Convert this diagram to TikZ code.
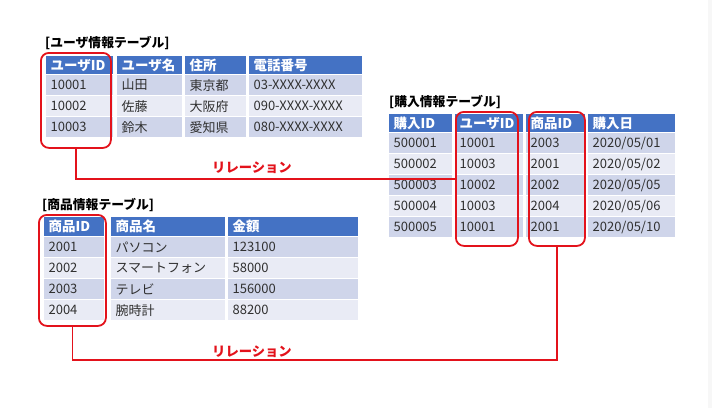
\documentclass[tikz,border=0pt]{standalone}
\usepackage{fontspec}
\setmainfont{Noto Sans CJK JP}
\definecolor{hdr}{HTML}{4472C4}
\definecolor{rowA}{HTML}{CFD5EA}
\definecolor{rowB}{HTML}{E9EBF5}
\definecolor{rel}{HTML}{E3121B}
\definecolor{txt}{HTML}{303030}
\tikzset{
  tcell/.style={anchor=north west, draw=white, line width=1.2pt, inner xsep=5pt, inner ysep=0pt,
    align=left, font=\fontsize{13}{14}\selectfont, text=txt},
  hcell/.style={tcell, fill=hdr, text=white, font=\fontsize{13.5}{14}\selectfont\bfseries},
  ttl/.style={anchor=west, inner sep=0pt, font=\fontsize{12.8}{14}\selectfont\bfseries, text=black},
  redbox/.style={anchor=north west, draw=rel, line width=1.8pt, rounded corners=8pt, inner sep=0pt},
  relline/.style={draw=rel, line width=1.6pt},
  rellbl/.style={inner sep=0pt, font=\fontsize{13.3}{14}\selectfont\bfseries, text=rel}
}
% name, x, y, text width, height, style, text
\newcommand\tc[7]{\node[#6, minimum height=#5pt, text width=#4pt] (#1) at (#2,#3) {#7};}
\begin{document}
\begin{tikzpicture}[x=1pt,y=-1pt]
\useasboundingbox (0,0) rectangle (712,408);
\fill[black!3] (708,0) rectangle (712,408);

% ---------------- user table
\node[ttl] (utitle) at (45,43) {[ユーザ情報テーブル]};
\tc{u00}{45}{55}{58}{19}{hcell}{ユーザID}
\tc{u01}{116}{55}{56}{19}{hcell}{ユーザ名}
\tc{u02}{184}{55}{52}{19}{hcell}{住所}
\tc{u03}{248}{55}{104}{19}{hcell}{電話番号}
\tc{u10}{45}{74}{58}{21}{tcell,fill=rowA}{10001}
\tc{u11}{116}{74}{56}{21}{tcell,fill=rowA}{山田}
\tc{u12}{184}{74}{52}{21}{tcell,fill=rowA}{東京都}
\tc{u13}{248}{74}{104}{21}{tcell,fill=rowA}{03-XXXX-XXXX}
\tc{u20}{45}{95}{58}{21}{tcell,fill=rowB}{10002}
\tc{u21}{116}{95}{56}{21}{tcell,fill=rowB}{佐藤}
\tc{u22}{184}{95}{52}{21}{tcell,fill=rowB}{大阪府}
\tc{u23}{248}{95}{104}{21}{tcell,fill=rowB}{090-XXXX-XXXX}
\tc{u30}{45}{116}{58}{21}{tcell,fill=rowA}{10003}
\tc{u31}{116}{116}{56}{21}{tcell,fill=rowA}{鈴木}
\tc{u32}{184}{116}{52}{21}{tcell,fill=rowA}{愛知県}
\tc{u33}{248}{116}{104}{21}{tcell,fill=rowA}{080-XXXX-XXXX}

% ---------------- purchase table
\node[ttl] (ptitle) at (389,102) {[購入情報テーブル]};
\tc{p00}{388}{113}{54}{19}{hcell}{購入ID}
\tc{p01}{454}{113}{59}{19}{hcell}{ユーザID}
\tc{p02}{525}{113}{50}{19}{hcell}{商品ID}
\tc{p03}{587}{113}{78}{19}{hcell}{購入日}
\tc{p10}{388}{132}{54}{21}{tcell,fill=rowA}{500001}
\tc{p11}{454}{132}{59}{21}{tcell,fill=rowA}{10001}
\tc{p12}{525}{132}{50}{21}{tcell,fill=rowA}{2003}
\tc{p13}{587}{132}{78}{21}{tcell,fill=rowA}{2020/05/01}
\tc{p20}{388}{153}{54}{21}{tcell,fill=rowB}{500002}
\tc{p21}{454}{153}{59}{21}{tcell,fill=rowB}{10003}
\tc{p22}{525}{153}{50}{21}{tcell,fill=rowB}{2001}
\tc{p23}{587}{153}{78}{21}{tcell,fill=rowB}{2020/05/02}
\tc{p30}{388}{174}{54}{21}{tcell,fill=rowA}{500003}
\tc{p31}{454}{174}{59}{21}{tcell,fill=rowA}{10002}
\tc{p32}{525}{174}{50}{21}{tcell,fill=rowA}{2002}
\tc{p33}{587}{174}{78}{21}{tcell,fill=rowA}{2020/05/05}
\tc{p40}{388}{195}{54}{21}{tcell,fill=rowB}{500004}
\tc{p41}{454}{195}{59}{21}{tcell,fill=rowB}{10003}
\tc{p42}{525}{195}{50}{21}{tcell,fill=rowB}{2004}
\tc{p43}{587}{195}{78}{21}{tcell,fill=rowB}{2020/05/06}
\tc{p50}{388}{216}{54}{21}{tcell,fill=rowA}{500005}
\tc{p51}{454}{216}{59}{21}{tcell,fill=rowA}{10001}
\tc{p52}{525}{216}{50}{21}{tcell,fill=rowA}{2001}
\tc{p53}{587}{216}{78}{21}{tcell,fill=rowA}{2020/05/10}

% ---------------- product table
\node[ttl] (gtitle) at (42,205) {[商品情報テーブル]};
\tc{g00}{43}{216}{51}{20}{hcell}{商品ID}
\tc{g01}{110}{216}{105}{20}{hcell}{商品名}
\tc{g02}{227}{216}{121}{20}{hcell}{金額}
\tc{g10}{43}{236}{51}{21}{tcell,fill=rowA}{2001}
\tc{g11}{110}{236}{105}{21}{tcell,fill=rowA}{パソコン}
\tc{g12}{227}{236}{121}{21}{tcell,fill=rowA}{123100}
\tc{g20}{43}{257}{51}{21}{tcell,fill=rowB}{2002}
\tc{g21}{110}{257}{105}{21}{tcell,fill=rowB}{スマートフォン}
\tc{g22}{227}{257}{121}{21}{tcell,fill=rowB}{58000}
\tc{g30}{43}{278}{51}{21}{tcell,fill=rowA}{2003}
\tc{g31}{110}{278}{105}{21}{tcell,fill=rowA}{テレビ}
\tc{g32}{227}{278}{121}{21}{tcell,fill=rowA}{156000}
\tc{g40}{43}{299}{51}{21}{tcell,fill=rowB}{2004}
\tc{g41}{110}{299}{105}{21}{tcell,fill=rowB}{腕時計}
\tc{g42}{227}{299}{121}{21}{tcell,fill=rowB}{88200}

% ---------------- red highlight boxes
\node[redbox, minimum width=70pt, minimum height=95pt] (ubox) at (40,52) {};
\node[redbox, minimum width=62pt, minimum height=134pt] (pubox) at (455,111) {};
\node[redbox, minimum width=56pt, minimum height=134pt] (pgbox) at (528,111) {};
\node[redbox, minimum width=67pt, minimum height=111pt] (gbox) at (38,214) {};

% ---------------- relations
\coordinate (bend) at (0,360);
\draw[relline] (ubox.south) |- (pubox.west);
\draw[relline] (gbox.south) -- (gbox.south |- bend) -| (pgbox.south);
\node[rellbl] (rel1) at (252,168) {リレーション};
\node[rellbl] (rel2) at (252,352) {リレーション};
\end{tikzpicture}
\end{document}
